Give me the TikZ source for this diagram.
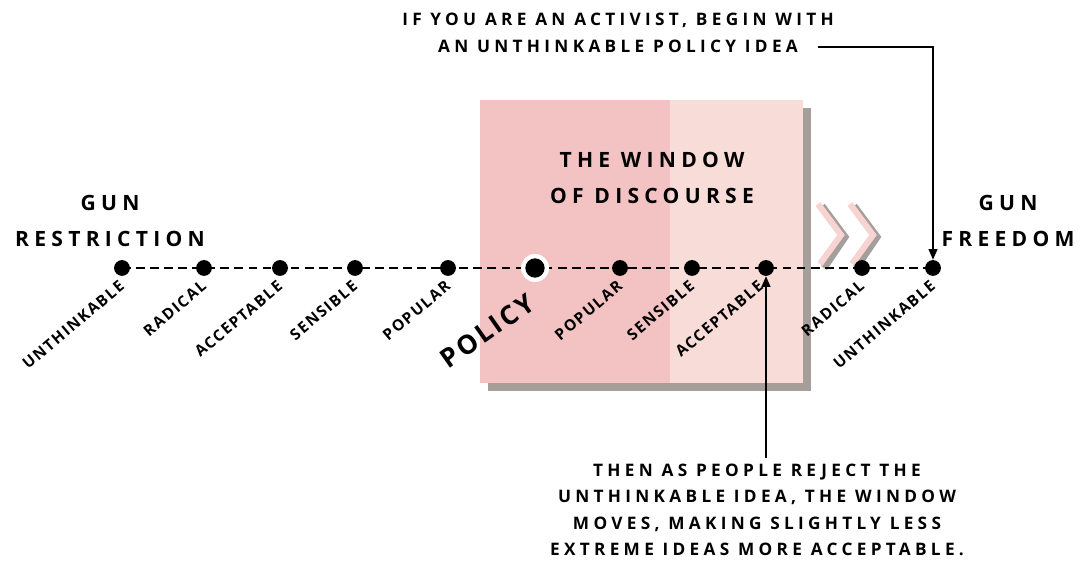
\documentclass[tikz,border=0pt]{standalone}
\usepackage{fontspec}
\newfontfamily\hand[LetterSpace=25]{Open Sans}
\newfontfamily\handtag[LetterSpace=10]{Open Sans}
\usetikzlibrary{positioning,arrows.meta}
\definecolor{winpink}{HTML}{F3C2C2}
\definecolor{winlight}{HTML}{F8DCD8}
\definecolor{winshade}{HTML}{A59E9B}
\tikzset{
  idea/.style={circle,fill=black,inner sep=0pt,minimum size=9pt},
  tag/.style={font=\handtag\bfseries\fontsize{8.8}{9}\selectfont,rotate=40,anchor=north east,inner sep=1pt},
  pole/.style={font=\hand\bfseries\fontsize{12}{21}\selectfont,align=center},
  note/.style={font=\hand\bfseries\fontsize{9.8}{15}\selectfont,align=center},
}
\begin{document}
\begin{tikzpicture}[x=0.02cm,y=-0.02cm]
  \useasboundingbox (0,0) rectangle (1080,563);
  %Window
  \fill[winshade] (488,108) rectangle (811,391);
  \fill[winpink] (480,100) rectangle (670,383);
  \fill[winlight] (670,100) rectangle (803,383);
  \node[pole] (Window) at (652,178) {THE WINDOW\\OF DISCOURSE};

  %Chevrons
  \foreach \dx in {0,32}{
    \draw[winshade,line width=4pt,line join=miter] (822+\dx,206) -- (845+\dx,237) -- (824+\dx,268);
    \draw[winlight!70!winpink,line width=3.5pt,line join=miter] (818+\dx,204) -- (841+\dx,235) -- (820+\dx,264);
  }

  %Axis
  \coordinate (Left) at (122,268);
  \coordinate (Right) at (933,268);
  \draw[dashed,thick,dash pattern=on 5pt off 3pt] (Left) -- (Right);
  \foreach \x/\n in {122/r1,204/r2,280/r3,355/r4,448/r5,620/f5,692/f4,766/f3,862/f2,933/f1}
    \node[idea] (\n) at (\x,268) {};
  \node[circle,fill=white,inner sep=0pt,minimum size=16pt] (Ring) at (535,268) {};
  \node[idea,minimum size=11pt] (Policy) at (535,268) {};

  %Labels
  \node[tag] (Lr1) at ([xshift=-2pt,yshift=-5pt]r1) {UNTHINKABLE};
  \node[tag] (Lr2) at ([xshift=-2pt,yshift=-5pt]r2) {RADICAL};
  \node[tag] (Lr3) at ([xshift=-2pt,yshift=-5pt]r3) {ACCEPTABLE};
  \node[tag] (Lr4) at ([xshift=-2pt,yshift=-5pt]r4) {SENSIBLE};
  \node[tag] (Lr5) at ([xshift=-2pt,yshift=-5pt]r5) {POPULAR};
  \node[tag,font=\handtag\bfseries\fontsize{15}{16}\selectfont,rotate=-5] (LPolicy) at ([xshift=-5pt,yshift=-12pt]Policy) {POLICY};
  \node[tag] (Lf5) at ([xshift=-2pt,yshift=-5pt]f5) {POPULAR};
  \node[tag] (Lf4) at ([xshift=-2pt,yshift=-5pt]f4) {SENSIBLE};
  \node[tag] (Lf3) at ([xshift=-5pt,yshift=-5pt]f3) {ACCEPTABLE};
  \node[tag] (Lf2) at ([xshift=-2pt,yshift=-5pt]f2) {RADICAL};
  \node[tag] (Lf1) at ([xshift=-2pt,yshift=-5pt]f1) {UNTHINKABLE};

  \node[pole] (Restriction) at (110,221) {GUN\\RESTRICTION};
  \node[pole] (Freedom) at (1008,221) {GUN\\FREEDOM};

  %Notes
  \node[note] (Activist) at (618,33) {IF YOU ARE AN ACTIVIST, BEGIN WITH\\AN UNTHINKABLE POLICY IDEA};
  \node[note] (Moves) at (757,510) {THEN AS PEOPLE REJECT THE\\UNTHINKABLE IDEA, THE WINDOW\\MOVES, MAKING SLIGHTLY LESS\\EXTREME IDEAS MORE ACCEPTABLE.};
  \coordinate (IdeaEnd) at (818,47);
  \draw[thick,-{Triangle[length=6pt,width=5pt]}] (IdeaEnd) -| ([yshift=28pt]f1);
  \draw[thick,-{Triangle[length=6pt,width=5pt]}] (f3 |- Moves.north) -- ([yshift=-7pt]f3);
\end{tikzpicture}
\end{document}
